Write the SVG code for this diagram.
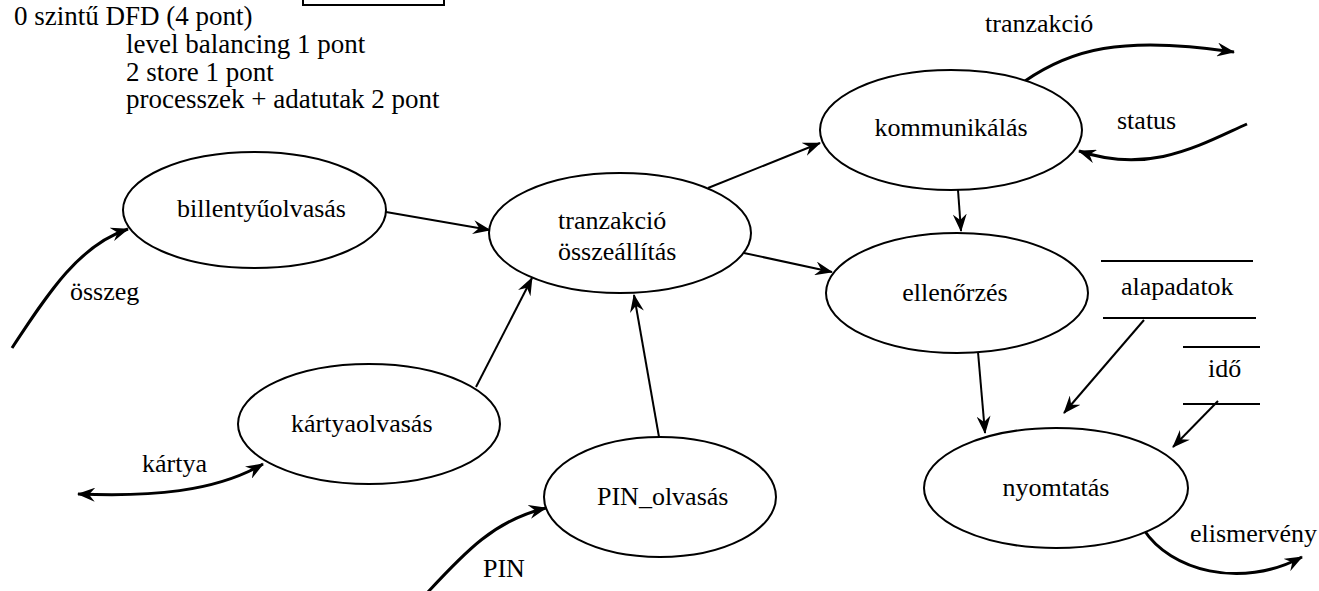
<svg xmlns="http://www.w3.org/2000/svg" width="1319" height="591" viewBox="0 0 1319 591" font-family="'Liberation Serif', 'Times New Roman', serif" font-size="26">
<defs>
<style>
text{font-family:'Liberation Serif','Times New Roman',serif;font-size:26px;fill:#000}
#header text{font-size:27px}
.node ellipse{fill:#fff;stroke:#000;stroke-width:2}
.c{fill:none;stroke:#000;stroke-width:2;marker-end:url(#ah)}
.f{fill:none;stroke:#000;stroke-width:3;marker-end:url(#ah)}
.st{stroke:#000;stroke-width:2}
</style>
<marker id="ah" viewBox="0 0 18 14" refX="17" refY="7" markerWidth="18" markerHeight="14" markerUnits="userSpaceOnUse" orient="auto-start-reverse">
<path d="M0,0 L18,7 L0,14 L6,7 Z" fill="#000"/>
</marker>
</defs>
<rect x="303" y="-20" width="141" height="25" fill="none" stroke="#000" stroke-width="2"/>
<g id="header">
<text x="14" y="25">0 szintű DFD (4 pont)</text>
<text x="126" y="53">level balancing 1 pont</text>
<text x="126" y="80.5">2 store 1 pont</text>
<text x="126" y="108">processzek + adatutak 2 pont</text>
</g>
<g id="connectors">
<path class="c" d="M386,212 L490,230"/>
<path class="c" d="M476,387 L532,278"/>
<path class="c" d="M659,437 L634,295"/>
<path class="c" d="M708,188 L820,143"/>
<path class="c" d="M744,253 L832,272"/>
<path class="c" d="M958,190 L961,231"/>
<path class="c" d="M978,352 L985,433"/>
<path class="c" d="M1144,320 L1064,413"/>
<path class="c" d="M1218,401 L1173,447"/>
<path class="f" d="M12,348 C50,290 80,245 128,229"/>
<path class="f" style="marker-start:url(#ah)" d="M78,494 C150,497 215,492 263,464"/>
<path class="f" d="M428,592 C465,552 495,520 546,508"/>
<path class="f" d="M1025,81 C1070,50 1120,35 1234,52"/>
<path class="f" d="M1247,124 C1200,145 1150,175 1079,151"/>
<path class="f" d="M1144,530 C1170,570 1240,590 1302,557"/>
<text x="70" y="300">összeg</text>
<text x="142" y="472">kártya</text>
<text x="483" y="577">PIN</text>
<text x="985" y="32">tranzakció</text>
<text x="1117" y="129">status</text>
<text x="1190" y="542">elismervény</text>
</g>
<g id="billentyuolvasas" class="node">
<ellipse cx="254.5" cy="210" rx="131.5" ry="58"/>
<text x="177" y="217">billentyűolvasás</text>
</g>
<g id="tranzakcio" class="node">
<ellipse cx="620" cy="233" rx="131" ry="60"/>
<text x="558" y="229">tranzakció</text>
<text x="558" y="260">összeállítás</text>
</g>
<g id="kartyaolvasas" class="node">
<ellipse cx="369" cy="424" rx="131" ry="60"/>
<text x="291" y="432">kártyaolvasás</text>
</g>
<g id="pin_olvasas" class="node">
<ellipse cx="660" cy="497" rx="116" ry="60"/>
<text x="597" y="505">PIN_olvasás</text>
</g>
<g id="kommunikalas" class="node">
<ellipse cx="951" cy="130" rx="131" ry="60"/>
<text x="951" y="136" text-anchor="middle">kommunikálás</text>
</g>
<g id="ellenorzes" class="node">
<ellipse cx="957" cy="293" rx="131" ry="60"/>
<text x="955" y="301" text-anchor="middle">ellenőrzés</text>
</g>
<g id="nyomtatas" class="node">
<ellipse cx="1056" cy="488" rx="132" ry="60"/>
<text x="1056" y="496" text-anchor="middle">nyomtatás</text>
</g>
<g id="alapadatok">
<line class="st" x1="1101" y1="261" x2="1253" y2="261"/>
<line class="st" x1="1103" y1="318" x2="1256" y2="318"/>
<text x="1121" y="295">alapadatok</text>
</g>
<g id="ido">
<line class="st" x1="1183" y1="347" x2="1260" y2="347"/>
<line class="st" x1="1183" y1="404" x2="1260" y2="404"/>
<text x="1208" y="377">idő</text>
</g>
</svg>
